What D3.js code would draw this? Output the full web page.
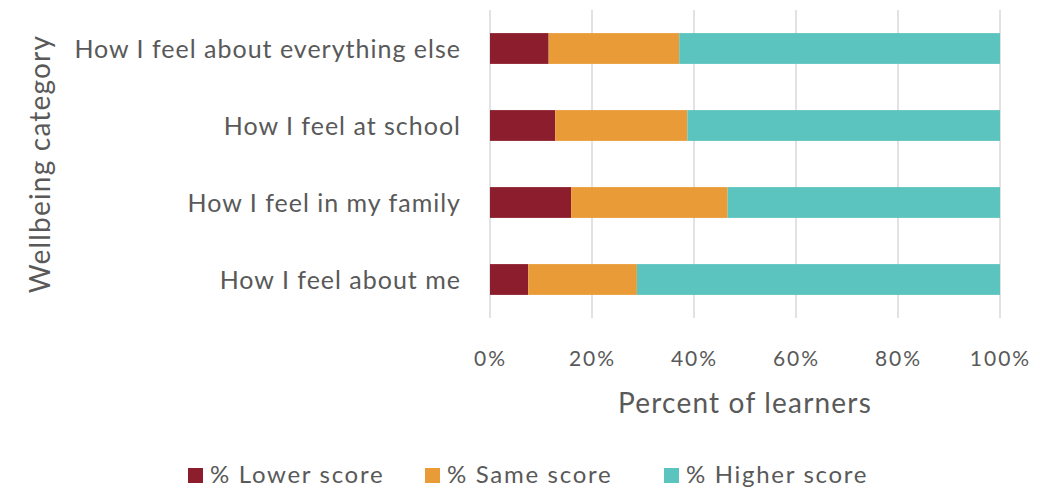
<!DOCTYPE html>
<html>
<head>
<meta charset="utf-8">
<script src="https://cdn.jsdelivr.net/npm/d3@7"></script>
<style>
  html, body { margin: 0; padding: 0; background: #fff; }
  svg { display: block; }
  text { font-family: Lato, "Open Sans", sans-serif; fill: #595959; }
</style>
</head>
<body>
<svg id="chart" width="1040" height="488"></svg>
<script>
// Wellbeing categories, top to bottom
const categories = [
  "How I feel about everything else",
  "How I feel at school",
  "How I feel in my family",
  "How I feel about me"
];
// Percent of learners per category
const lowerScore  = [11.5, 12.8, 15.9, 7.5];
const sameScore   = [25.6, 25.9, 30.7, 21.3];
const higherScore = [62.9, 61.3, 53.4, 71.2];

const seriesNames = ["% Lower score", "% Same score", "% Higher score"];
const seriesColors = ["#8c1d2c", "#e99b37", "#5cc4bf"];
const tickValues = [0, 20, 40, 60, 80, 100];

const svg = d3.select("#chart");
const margin = { left: 490, right: 40, top: 10, bottom: 170 };
const W = 1040, H = 488;

const x = d3.scaleLinear().domain([0, 100]).range([margin.left, W - margin.right]);
const y = d3.scaleBand().domain(categories).range([margin.top, H - margin.bottom])
  .paddingInner(0.6).paddingOuter(0.3);

// Rows for stacking
const rows = categories.map((c, i) => ({
  category: c,
  [seriesNames[0]]: lowerScore[i],
  [seriesNames[1]]: sameScore[i],
  [seriesNames[2]]: higherScore[i]
}));
const stacked = d3.stack().keys(seriesNames)(rows);

// Vertical gridlines
svg.append("g")
  .selectAll("line")
  .data(tickValues)
  .join("line")
  .attr("x1", d => x(d)).attr("x2", d => x(d))
  .attr("y1", margin.top).attr("y2", H - margin.bottom)
  .attr("stroke", "#d9d9d9").attr("stroke-width", 1.5);

// Stacked bars
svg.append("g")
  .selectAll("g")
  .data(stacked)
  .join("g")
  .attr("fill", (d, i) => seriesColors[i])
  .selectAll("rect")
  .data(d => d)
  .join("rect")
  .attr("x", d => x(d[0]))
  .attr("width", d => x(d[1]) - x(d[0]))
  .attr("y", d => y(d.data.category))
  .attr("height", y.bandwidth());

// X axis tick labels
const xAxis = d3.axisBottom(x).tickValues(tickValues).tickFormat(d => d + "%").tickSize(0).tickPadding(0);
const gx = svg.append("g").attr("transform", "translate(0,366)").call(xAxis);
gx.select(".domain").remove();
gx.selectAll("text")
  .style("font-size", "21px").style("letter-spacing", "2px")
  .attr("dy", 0).attr("y", 0).attr("fill", "#595959");

// Y axis category labels
const yAxis = d3.axisLeft(y).tickSize(0).tickPadding(29);
const gy = svg.append("g").attr("transform", `translate(${margin.left},0)`).call(yAxis);
gy.select(".domain").remove();
gy.selectAll("text")
  .style("font-size", "25px").style("letter-spacing", "1px")
  .attr("fill", "#595959").attr("dy", "0.36em");

// Axis titles
svg.append("text")
  .attr("x", x(50)).attr("y", 413)
  .attr("text-anchor", "middle")
  .style("font-size", "28px").style("letter-spacing", "1.2px")
  .text("Percent of learners");

svg.append("text")
  .attr("transform", "translate(50,164) rotate(-90)")
  .attr("text-anchor", "middle")
  .style("font-size", "28px").style("letter-spacing", "1.2px")
  .text("Wellbeing category");

// Legend
const legendX = [188, 425, 664];
const legend = svg.append("g").attr("transform", "translate(0,483)");
const items = legend.selectAll("g").data(seriesNames).join("g")
  .attr("transform", (d, i) => `translate(${legendX[i]},0)`);
items.append("rect").attr("x", 0).attr("y", -15).attr("width", 15).attr("height", 15)
  .attr("fill", (d, i) => seriesColors[i]);
items.append("text").attr("x", 22).attr("y", 0)
  .style("font-size", "24px").style("letter-spacing", "1.7px")
  .text(d => d);
</script>
</body>
</html>
